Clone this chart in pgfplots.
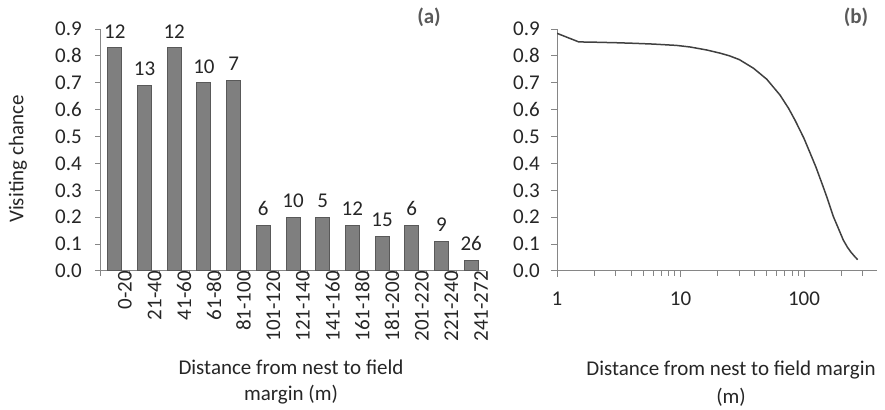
\documentclass[border=0pt]{standalone}
\usepackage{fontspec}
\setmainfont{Carlito}
\usepackage{pgfplots}
\usepackage{pgfplotstable}
\pgfplotsset{compat=1.18}
\definecolor{barfill}{HTML}{7F7F7F}
\definecolor{bardraw}{HTML}{595959}
\definecolor{axc}{HTML}{868686}
\definecolor{txt}{HTML}{262626}
\definecolor{lab}{HTML}{595959}
\definecolor{curve}{HTML}{404040}
\pgfplotstableread{
x y n
0 0.83 12
1 0.69 13
2 0.83 12
3 0.70 10
4 0.71 7
5 0.17 6
6 0.20 10
7 0.20 5
8 0.17 12
9 0.13 15
10 0.17 6
11 0.11 9
12 0.04 26
}\bardata
\pgfplotstableread{
d p
1 0.884
1.5 0.852
2 0.851
3 0.849
4.1 0.847
6 0.844
9.3 0.839
12 0.833
16.3 0.822
21 0.810
25 0.800
30 0.786
39 0.754
50 0.713
64 0.654
75 0.605
85 0.559
100 0.493
112 0.439
125 0.386
143 0.313
155 0.268
173 0.202
190 0.158
208 0.115
225 0.088
240 0.070
256 0.055
272 0.042
}\curvedata
\begin{document}
\fontsize{21bp}{25bp}\selectfont
\begin{tikzpicture}[font=\fontsize{21bp}{25bp}\selectfont]
\useasboundingbox (0,0) rectangle (885bp,410bp);
\pgfplotsset{
  common/.style={
    scale only axis,
    anchor=south west,
    ymin=0, ymax=0.9,
    ytick={0,0.1,...,0.9},
    /pgf/number format/fixed,
    /pgf/number format/fixed zerofill,
    /pgf/number format/precision=1,
    /pgf/number format/assume math mode=true,
    axis x line*=bottom, axis y line*=left,
    axis line style={axc, line width=1bp, -},
    tick style={axc, line width=1bp},
    tick align=outside,
    tick label style={text=txt},
    height=242bp,
  }
}
\begin{axis}[common,
  at={(100bp,139bp)}, width=386bp,
  xmin=-0.5, xmax=12.5,
  major tick length=5bp,
  xtick={-0.5,0.5,...,12.5}, xticklabels={,,,,,,,,,,,,,},
  extra x ticks={0,...,12},
  extra x tick labels={0-20,21-40,41-60,61-80,81-100,101-120,121-140,141-160,161-180,181-200,201-220,221-240,241-272},
  extra x tick style={major tick length=0pt, tick label style={rotate=90, anchor=east, inner sep=0pt, yshift=-10bp}},
  yticklabel style={anchor=east, inner sep=0pt, xshift=-13bp},
]
\addplot[ybar, bar width=14bp, fill=barfill, draw=bardraw, line width=1bp,
  nodes near coords, point meta=explicit symbolic,
  every node near coord/.append style={anchor=south, inner sep=0pt, yshift=9bp, text=txt, font=\fontsize{21bp}{25bp}\selectfont}]
  table[x=x, y=y, meta=n] {\bardata};
\end{axis}
\begin{axis}[common,
  at={(557bp,139bp)}, width=320bp,
  xmode=log, xmin=1, xmax=390,
  major tick length=6bp, minor tick length=5bp,
  xtick={1,10,100}, xticklabels={1,10,100},
  minor xtick={2,3,4,5,6,7,8,9,20,30,40,50,60,70,80,90,200,300},
  xticklabel style={anchor=north, inner sep=0pt, yshift=-15bp},
  yticklabel style={anchor=east, inner sep=0pt, xshift=-11bp},
]
\addplot[curve, line width=1.5bp, no marks] table[x=d, y=p] {\curvedata};
\end{axis}
\node[text=txt, rotate=90] at (18bp,251bp) {Visiting chance};
\node[text=txt, align=center, font=\fontsize{21bp}{26bp}\selectfont] at (291bp,28bp) {Distance from nest to field\\margin (m)};
\node[text=txt, align=center, font=\fontsize{21bp}{28bp}\selectfont] at (731bp,26bp) {Distance from nest to field margin\\(m)};
\node[text=lab, font=\bfseries\fontsize{21bp}{25bp}\selectfont] at (429bp,392.5bp) {(a)};
\node[text=lab, font=\bfseries\fontsize{21bp}{25bp}\selectfont] at (856bp,392.5bp) {(b)};
\end{tikzpicture}
\end{document}
